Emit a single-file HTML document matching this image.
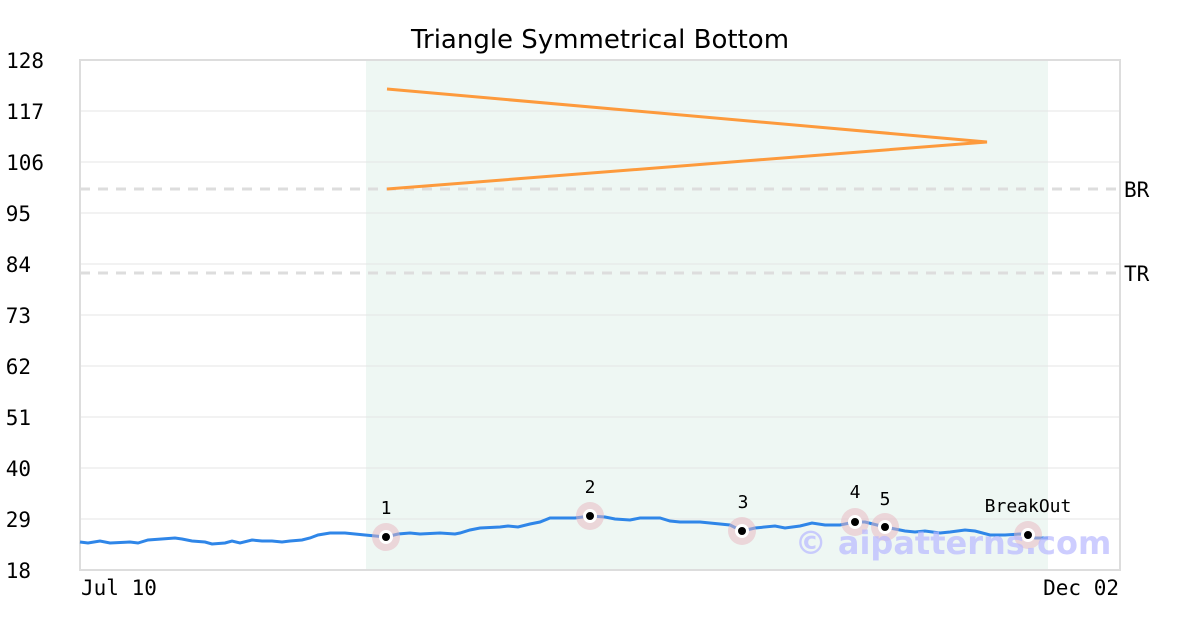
<!DOCTYPE html>
<html><head><meta charset="utf-8"><style>body{margin:0;background:#fff}svg{display:block}</style></head>
<body>
<svg width="1200" height="630" xmlns="http://www.w3.org/2000/svg" font-family="DejaVu Sans Mono, Liberation Mono, monospace">
<rect x="366" y="60" width="682" height="510" fill="#eef7f3"/>
<g stroke="#e4e4e4" stroke-width="1">
<line x1="80" x2="1120" y1="111" y2="111"/><line x1="80" x2="1120" y1="162" y2="162"/>
<line x1="80" x2="1120" y1="213" y2="213"/><line x1="80" x2="1120" y1="264" y2="264"/>
<line x1="80" x2="1120" y1="315" y2="315"/><line x1="80" x2="1120" y1="366" y2="366"/>
<line x1="80" x2="1120" y1="417" y2="417"/><line x1="80" x2="1120" y1="468" y2="468"/>
<line x1="80" x2="1120" y1="519" y2="519"/>
</g>
<rect x="80" y="60" width="1040" height="510" fill="none" stroke="#dddddd" stroke-width="2"/>
<g stroke="#dddddd" stroke-width="3" stroke-dasharray="10,8">
<line x1="80" x2="1120" y1="189" y2="189"/><line x1="80" x2="1120" y1="273" y2="273"/>
</g>
<g font-size="21" fill="#000">
<text x="1124" y="197">BR</text><text x="1124" y="281">TR</text>
<g text-anchor="end">
<text x="44" y="68">128</text><text x="44" y="119">117</text><text x="44" y="170">106</text>
<text x="31" y="221">95</text><text x="31" y="272">84</text><text x="31" y="323">73</text>
<text x="31" y="374">62</text><text x="31" y="425">51</text><text x="31" y="476">40</text>
<text x="31" y="527">29</text><text x="31" y="578">18</text>
</g>
<text x="81" y="595">Jul 10</text><text x="1119" y="595" text-anchor="end">Dec 02</text>
</g>
<text x="600" y="48" text-anchor="middle" font-family="DejaVu Sans, Liberation Sans, sans-serif" font-size="26">Triangle Symmetrical Bottom</text>
<polyline fill="none" stroke="#fd9a3c" stroke-width="3" points="387,89 987,142 387,189"/>
<polyline fill="none" stroke="#2f86e8" stroke-width="3" points="80,542 88,543 100,541 110,543 130,542 138,543 148,540 175,538 182,539 192,541 205,542 212,544 225,543 232,541 240,543 252,540 262,541 272,541 282,542 290,541 302,540 310,538 318,535 330,533 345,533 365,535 386,537 398,534 410,533 420,534 440,533 455,534 460,533 470,530 480,528 500,527 508,526 518,527 530,524 540,522 550,518 560,518 575,518 590,516 605,517 615,519 630,520 640,518 660,518 670,521 680,522 700,522 710,523 730,525 742,531 755,528 775,526 785,528 800,526 812,523 825,525 840,525 855,522 865,522 885,527 895,529 905,531 915,532 925,531 940,533 950,532 965,530 975,531 990,535 1005,535 1020,534 1028,535 1035,538 1048,538"/>
<g fill="#e8b6c0" fill-opacity="0.5">
<circle cx="386" cy="537" r="14"/><circle cx="590" cy="516" r="14"/><circle cx="742" cy="531" r="14"/>
<circle cx="855" cy="522" r="14"/><circle cx="885" cy="527" r="14"/><circle cx="1028" cy="535" r="14"/>
</g>
<g fill="#000" stroke="#fff" stroke-width="3">
<circle cx="386" cy="537" r="5.5"/><circle cx="590" cy="516" r="5.5"/><circle cx="742" cy="531" r="5.5"/>
<circle cx="855" cy="522" r="5.5"/><circle cx="885" cy="527" r="5.5"/><circle cx="1028" cy="535" r="5.5"/>
</g>
<g font-size="18" fill="#000" text-anchor="middle">
<text x="386" y="514">1</text><text x="590" y="493">2</text><text x="743" y="508">3</text>
<text x="855" y="498">4</text><text x="885" y="505">5</text><text x="1028" y="512">BreakOut</text>
</g>
<text x="953" y="554" text-anchor="middle" font-family="DejaVu Sans, Liberation Sans, sans-serif" font-weight="bold" font-size="32" fill="#b8b8ff" fill-opacity="0.7">© aipatterns.com</text>
</svg>
</body></html>
